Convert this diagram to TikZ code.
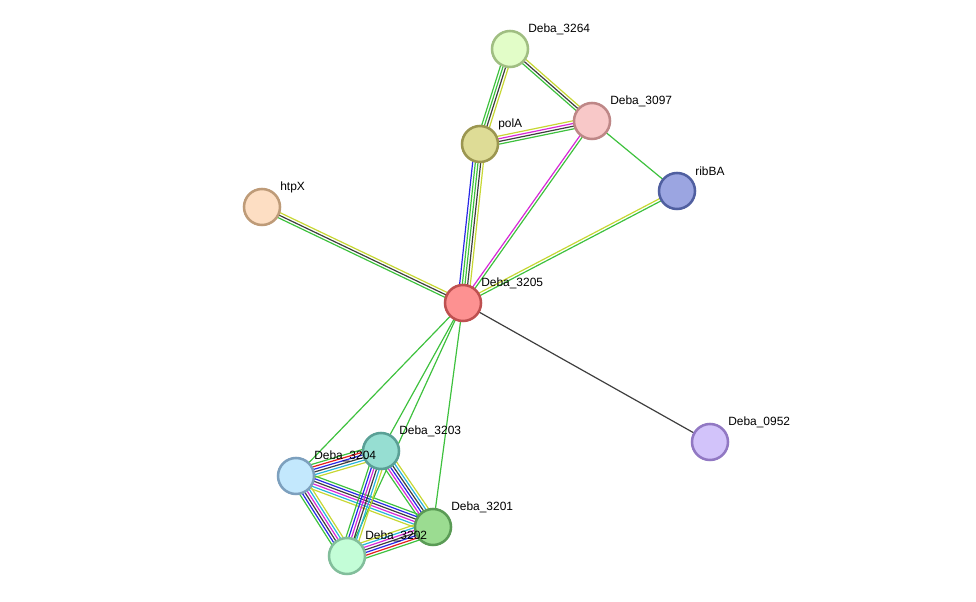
\documentclass[tikz,border=0pt]{standalone}
\usepackage{fontspec}
\setmainfont{Liberation Sans}
\usetikzlibrary{calc}
\usetikzlibrary{backgrounds}

\definecolor{lgreen}{RGB}{62,193,62}
\definecolor{lyellow}{RGB}{199,215,51}
\definecolor{ldark}{RGB}{62,62,62}
\definecolor{lmagenta}{RGB}{215,40,215}
\definecolor{lblue}{RGB}{40,40,230}
\definecolor{lcyan}{RGB}{40,180,220}
\definecolor{lred}{RGB}{230,30,30}

\tikzset{
  prot/.style={circle,line width=1.8pt,minimum size=0.9cm,inner sep=0pt},
  plabel/.style={anchor=west,font=\fontsize{8.5}{10}\selectfont,inner sep=0pt},
  link/.style={line width=0.85pt},
}

% parallel coloured links between two proteins
\newcommand\strlink[4]{%
  \foreach \c [count=\i] in {#4}{%
    \pgfmathsetmacro\off{(\i-(#3+1)/2)*1.9}
    \draw[link,\c] ($(#1.center)!\off pt!90:(#2.center)$) -- ($(#2.center)!\off pt!-90:(#1.center)$);
  }}

\begin{document}
\begin{tikzpicture}[x=0.025cm,y=-0.025cm]
  \useasboundingbox (0,0) rectangle (976,602);

  \node[prot,fill={rgb,255:red,226;green,253;blue,200},draw={rgb,255:red,160;green,190;blue,130}] (d3264) at (510,49) {};
  \node[prot,fill={rgb,255:red,248;green,200;blue,200},draw={rgb,255:red,190;green,135;blue,135}] (d3097) at (592,121) {};
  \node[prot,fill={rgb,255:red,222;green,220;blue,150},draw={rgb,255:red,155;green,150;blue,80}] (polA) at (480,144) {};
  \node[prot,fill={rgb,255:red,155;green,165;blue,225},draw={rgb,255:red,80;green,95;blue,160}] (ribBA) at (677,191) {};
  \node[prot,fill={rgb,255:red,253;green,222;blue,195},draw={rgb,255:red,190;green,155;blue,120}] (htpX) at (262,207) {};
  \node[prot,fill={rgb,255:red,253;green,145;blue,145},draw={rgb,255:red,190;green,80;blue,80}] (d3205) at (463,303) {};
  \node[prot,fill={rgb,255:red,210;green,195;blue,250},draw={rgb,255:red,145;green,120;blue,195}] (d0952) at (710,442) {};
  \node[prot,fill={rgb,255:red,150;green,222;blue,210},draw={rgb,255:red,90;green,160;blue,150}] (d3203) at (381,451) {};
  \node[prot,fill={rgb,255:red,195;green,232;blue,253},draw={rgb,255:red,125;green,160;blue,190}] (d3204) at (296,476) {};
  \node[prot,fill={rgb,255:red,155;green,220;blue,145},draw={rgb,255:red,90;green,155;blue,85}] (d3201) at (433,527) {};
  \node[prot,fill={rgb,255:red,195;green,253;blue,215},draw={rgb,255:red,130;green,190;blue,155}] (d3202) at (347,556) {};

  \begin{scope}[on background layer]
    \strlink{d3264}{polA}{4}{lgreen,lgreen,ldark,lyellow}
    \strlink{d3264}{d3097}{3}{lgreen,ldark,lyellow}
    \strlink{polA}{d3097}{4}{lgreen,ldark,lmagenta,lyellow}
    \strlink{d3097}{ribBA}{1}{lgreen}
    \strlink{d3097}{d3205}{2}{lmagenta,lgreen}
    \strlink{polA}{d3205}{5}{lblue,lgreen,lgreen,ldark,lyellow}
    \strlink{htpX}{d3205}{3}{lgreen,ldark,lyellow}
    \strlink{ribBA}{d3205}{2}{lyellow,lgreen}
    \strlink{d3205}{d0952}{1}{ldark}
    \strlink{d3205}{d3204}{1}{lgreen}
    \strlink{d3205}{d3203}{1}{lgreen}
    \strlink{d3205}{d3202}{1}{lgreen}
    \strlink{d3205}{d3201}{1}{lgreen}
    \strlink{d3204}{d3203}{6}{lyellow,lcyan,ldark,lblue,lred,lgreen}
    \strlink{d3204}{d3201}{6}{lyellow,lcyan,lmagenta,ldark,lblue,lgreen}
    \strlink{d3204}{d3202}{6}{lgreen,lblue,ldark,lmagenta,lcyan,lyellow}
    \strlink{d3203}{d3202}{6}{lgreen,lblue,lmagenta,ldark,lcyan,lyellow}
    \strlink{d3203}{d3201}{6}{lgreen,lmagenta,lblue,ldark,lcyan,lyellow}
    \strlink{d3202}{d3201}{7}{lgreen,lred,lblue,ldark,lmagenta,lcyan,lyellow}
  \end{scope}

  % labels
  \node[plabel] (t3264) at ([shift={(18,-20)}]d3264.center) {Deba\_3264};
  \node[plabel] (t3097) at ([shift={(18,-20)}]d3097.center) {Deba\_3097};
  \node[plabel] (tpolA) at ([shift={(18,-20)}]polA.center) {polA};
  \node[plabel] (tribBA) at ([shift={(18,-20)}]ribBA.center) {ribBA};
  \node[plabel] (thtpX) at ([shift={(18,-20)}]htpX.center) {htpX};
  \node[plabel] (t3205) at ([shift={(18,-20)}]d3205.center) {Deba\_3205};
  \node[plabel] (t0952) at ([shift={(18,-20)}]d0952.center) {Deba\_0952};
  \node[plabel] (t3203) at ([shift={(18,-20)}]d3203.center) {Deba\_3203};
  \node[plabel] (t3204) at ([shift={(18,-20)}]d3204.center) {Deba\_3204};
  \node[plabel] (t3201) at ([shift={(18,-20)}]d3201.center) {Deba\_3201};
  \node[plabel] (t3202) at ([shift={(18,-20)}]d3202.center) {Deba\_3202};
\end{tikzpicture}
\end{document}
